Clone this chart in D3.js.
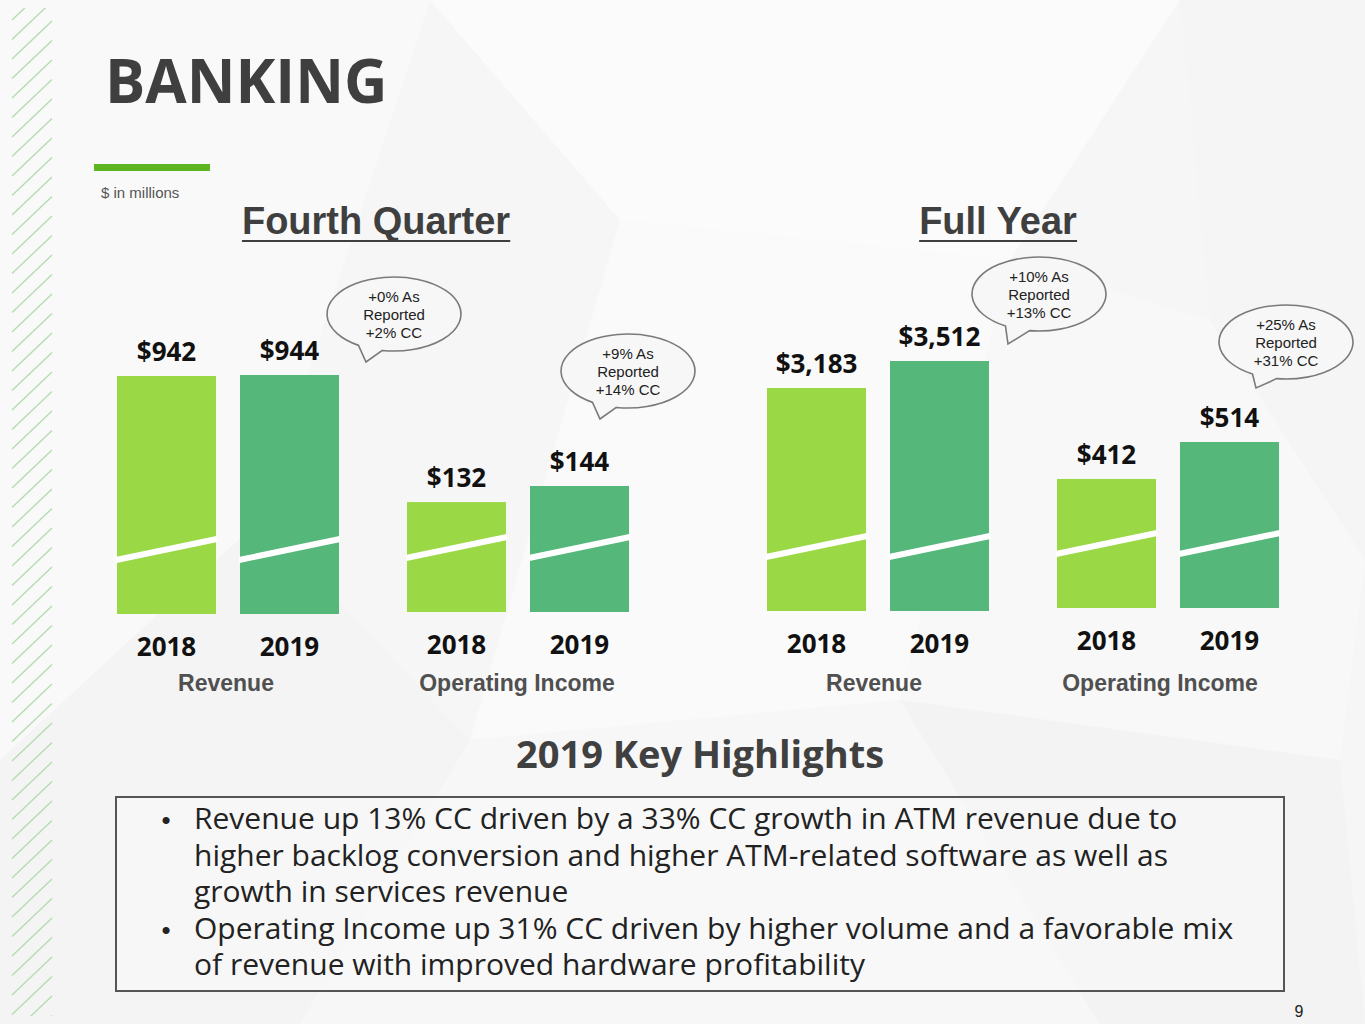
<!DOCTYPE html>
<html>
<head>
<meta charset="utf-8">
<script src="https://cdn.jsdelivr.net/npm/d3@7"></script>
<style>
  html, body { margin: 0; padding: 0; background: #f6f6f6; }
  svg { display: block; }
</style>
</head>
<body>
<div id="slide"></div>
<script>
/////////////////////////////////////
///      DATA
/////////////////////////////////////
var years = ["2018", "2019"];
var metrics = ["Revenue", "Operating Income", "Revenue", "Operating Income"];
var periods = ["Fourth Quarter", "Full Year"];
var values2018 = [942, 132, 3183, 412];
var values2019 = [944, 144, 3512, 514];
// value where each broken axis starts
var axisFloors = [466, 50, 467, 56];
var callouts = [
  ["+0% As", "Reported", "+2% CC"],
  ["+9% As", "Reported", "+14% CC"],
  ["+10% As", "Reported", "+13% CC"],
  ["+25% As", "Reported", "+31% CC"]
];
var highlights = [
  ["Revenue up 13% CC driven by a 33% CC growth in ATM revenue due to",
   "higher backlog conversion and higher ATM-related software as well as",
   "growth in services revenue"],
  ["Operating Income up 31% CC driven by higher volume and a favorable mix",
   "of revenue with improved hardware profitability"]
];

/////////////////////////////////////
///      LAYOUT
/////////////////////////////////////
var width = 1365, height = 1024;
var groupLeft = [117, 407, 767, 1057];
var groupBottom = [614, 612, 611, 608];
var groupTop = [375, 486, 361, 442];   // y of the tallest bar in each group
var labelX = [226, 517, 874, 1160];
var colors = {"2018": "#9bd845", "2019": "#55b77a"};
var calloutPos = [
  {cx: 394, cy: 314, tip: [366, 362], a1: 100, a2: 122},
  {cx: 628, cy: 371, tip: [600, 419], a1: 100, a2: 122},
  {cx: 1039, cy: 294, tip: [1008, 344], a1: 98, a2: 120},
  {cx: 1286, cy: 342, tip: [1256, 388], a1: 98, a2: 120}
];

var svg = d3.select("#slide").append("svg")
    .attr("width", width)
    .attr("height", height);

// background facets
svg.append("rect").attr("width", width).attr("height", height).attr("fill", "#f6f6f6");
var facets = [
  [[0,0],[430,0],[260,520],[0,760]],
  [[430,0],[1180,0],[1010,260],[620,220]],
  [[620,220],[1010,260],[900,700],[470,740]],
  [[1180,0],[1365,0],[1365,560],[1210,320]],
  [[1010,260],[1210,320],[1365,560],[1340,760],[900,700]],
  [[0,760],[260,520],[470,740],[300,1024],[0,1024]],
  [[470,740],[900,700],[1100,1024],[300,1024]],
  [[900,700],[1340,760],[1365,1024],[1100,1024]]
];
var facetFill = ["#f9f9f9", "#fbfbfb", "#fafafa", "#f5f5f5", "#f8f8f8", "#f4f4f4", "#f7f7f7", "#f3f3f3"];
svg.append("g").selectAll("polygon").data(facets).join("polygon")
    .attr("points", function(d) { return d.join(" "); })
    .attr("fill", function(d, i) { return facetFill[i]; });

// left hatch strip
var hatch = svg.append("g").attr("stroke", "#b3dcae").attr("stroke-width", 1.3);
hatch.append("clipPath").attr("id", "hatchClip")
    .append("rect").attr("x", 10).attr("y", 8).attr("width", 44).attr("height", 1008);
hatch.attr("clip-path", "url(#hatchClip)")
  .selectAll("line").data(d3.range(20, 1080, 19.5)).join("line")
    .attr("x1", 12).attr("y1", function(d) { return d; })
    .attr("x2", 52).attr("y2", function(d) { return d - 38; });

// title
svg.append("text").attr("x", 105).attr("y", 103)
    .attr("font-family", "Open Sans").attr("font-weight", 700).attr("font-size", 60)
    .attr("fill", "#3f3f3f").text("BANKING");
svg.append("rect").attr("x", 94).attr("y", 164).attr("width", 116).attr("height", 7)
    .attr("fill", "#5db51f");
svg.append("text").attr("x", 101).attr("y", 198)
    .attr("font-family", "Liberation Sans").attr("font-size", 15)
    .attr("fill", "#555").text("$ in millions");

// period headings
var periodX = [376, 998];
periods.forEach(function(p, i) {
  var t = svg.append("text").attr("x", periodX[i]).attr("y", 234)
      .attr("text-anchor", "middle")
      .attr("font-family", "Liberation Sans").attr("font-weight", 700).attr("font-size", 38)
      .attr("fill", "#3f3f3f").text(p);
  var bb = t.node().getBBox();
  svg.append("line").attr("x1", bb.x).attr("x2", bb.x + bb.width)
      .attr("y1", 241).attr("y2", 241)
      .attr("stroke", "#3f3f3f").attr("stroke-width", 2);
});

/////////////////////////////////////
///      BAR GROUPS
/////////////////////////////////////
metrics.forEach(function(metric, i) {
  var vals = [values2018[i], values2019[i]];
  var x = d3.scaleBand().domain(years)
      .range([groupLeft[i], groupLeft[i] + 222])
      .paddingInner(0.195);
  var y = d3.scaleLinear()
      .domain([axisFloors[i], d3.max(vals)])
      .range([groupBottom[i], groupTop[i]]);
  var g = svg.append("g");
  var bw = x.bandwidth();

  years.forEach(function(yr, j) {
    var x0 = x(yr);
    g.append("rect")
        .attr("x", x0).attr("y", y(vals[j]))
        .attr("width", bw).attr("height", y(axisFloors[i]) - y(vals[j]))
        .attr("fill", colors[yr]);
    // axis break
    g.append("line")
        .attr("x1", x0 - 1).attr("y1", y(axisFloors[i]) - 54)
        .attr("x2", x0 + bw + 1).attr("y2", y(axisFloors[i]) - 75)
        .attr("stroke", "#fff").attr("stroke-width", 6);
    g.append("text")
        .attr("x", x0 + bw / 2).attr("y", y(vals[j]) - 15)
        .attr("text-anchor", "middle")
        .attr("font-family", "Open Sans").attr("font-weight", 700).attr("font-size", 26)
        .attr("fill", "#111").text("$" + d3.format(",")(vals[j]));
    g.append("text")
        .attr("x", x0 + bw / 2).attr("y", y(axisFloors[i]) + 42)
        .attr("text-anchor", "middle")
        .attr("font-family", "Open Sans").attr("font-weight", 700).attr("font-size", 26)
        .attr("fill", "#111").text(yr);
  });

  g.append("text")
      .attr("x", labelX[i]).attr("y", 691)
      .attr("text-anchor", "middle")
      .attr("font-family", "Liberation Sans").attr("font-weight", 700).attr("font-size", 23)
      .attr("fill", "#505050").text(metric);
});

// speech bubbles
var rx = 67, ry = 37;
function onEllipse(c, deg) {
  var t = deg * Math.PI / 180;
  return [c.cx + rx * Math.cos(t), c.cy + ry * Math.sin(t)];
}
callouts.forEach(function(lines, i) {
  var c = calloutPos[i];
  var p1 = onEllipse(c, c.a1), p2 = onEllipse(c, c.a2);
  svg.append("path")
      .attr("d", "M" + p2 + "L" + c.tip + "L" + p1 +
                 "A" + rx + "," + ry + " 0 1 0 " + p2 + "Z")
      .attr("fill", "#f7f7f7").attr("stroke", "#7a7a7a").attr("stroke-width", 1.6);
  svg.append("text")
      .attr("text-anchor", "middle")
      .attr("font-family", "Liberation Sans").attr("font-size", 15)
      .attr("fill", "#222")
    .selectAll("tspan").data(lines).join("tspan")
      .attr("x", c.cx).attr("y", function(d, k) { return c.cy + (k - 1) * 18 + 6; })
      .text(function(d) { return d; });
});

/////////////////////////////////////
///      HIGHLIGHTS
/////////////////////////////////////
svg.append("text").attr("x", 700).attr("y", 768).attr("text-anchor", "middle")
    .attr("font-family", "Open Sans").attr("font-weight", 700).attr("font-size", 38)
    .attr("fill", "#404040").text("2019 Key Highlights");
svg.append("rect").attr("x", 116).attr("y", 797).attr("width", 1168).attr("height", 194)
    .attr("fill", "#f8f8f8").attr("fill-opacity", 0.6)
    .attr("stroke", "#555").attr("stroke-width", 2);

// one paragraph, one line per tspan
var lineY0 = 829, lineStep = 36.5;
var rows = [];
highlights.forEach(function(item) {
  item.forEach(function(line, k) { rows.push({text: line, first: k === 0}); });
});
svg.append("g").selectAll("text").data(rows.filter(function(r) { return r.first; })).join("text")
    .attr("x", 166)
    .attr("y", function(d) { return lineY0 + rows.indexOf(d) * lineStep; })
    .attr("text-anchor", "middle")
    .attr("font-family", "Liberation Sans").attr("font-size", 26)
    .attr("fill", "#222").text("\u2022");
svg.append("text")
    .attr("font-family", "Open Sans").attr("font-size", 30)
    .attr("fill", "#222")
  .selectAll("tspan").data(rows).join("tspan")
    .attr("x", 194)
    .attr("y", function(d, k) { return lineY0 + k * lineStep; })
    .text(function(d) { return d.text; });

svg.append("text").attr("x", 1299).attr("y", 1017).attr("text-anchor", "middle")
    .attr("font-family", "Liberation Sans").attr("font-size", 16)
    .attr("fill", "#222").text("9");
</script>
</body>
</html>
